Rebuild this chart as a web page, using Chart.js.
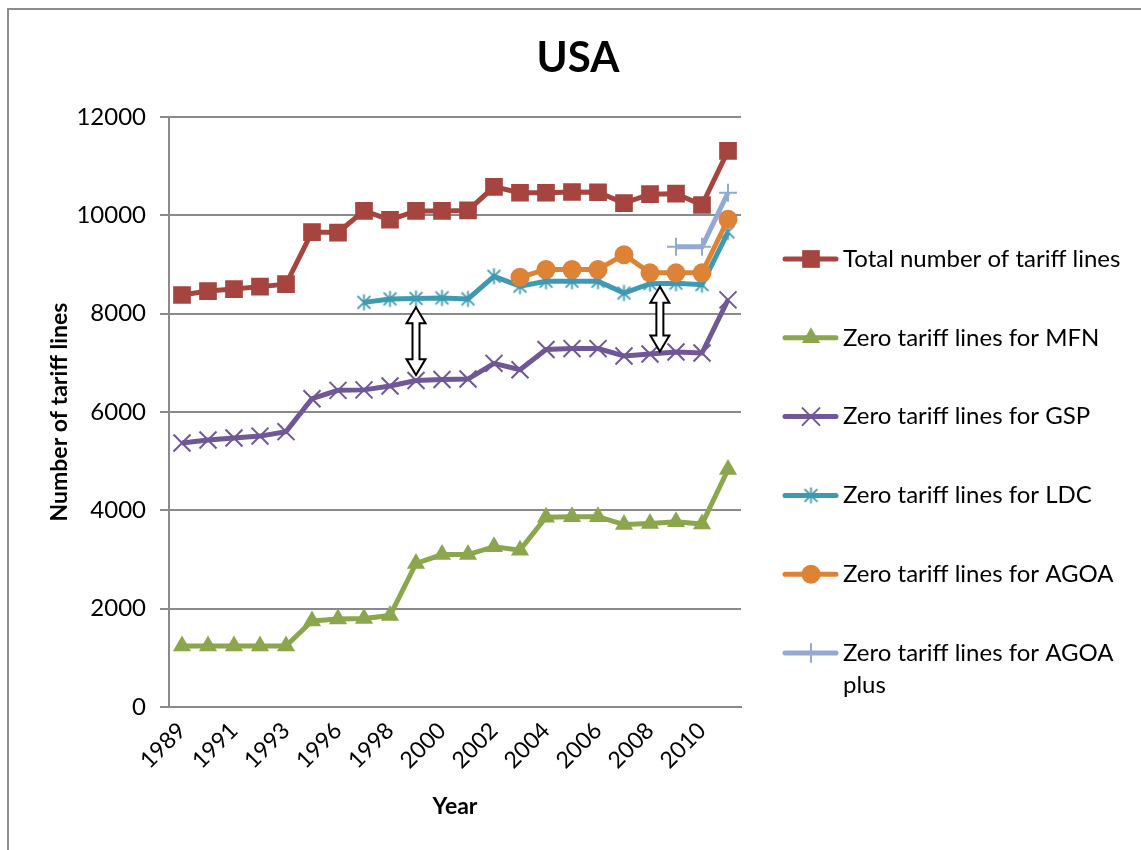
<!DOCTYPE html>
<html>
<head>
<meta charset="utf-8">
<title>USA - zero tariff lines</title>
<script src="https://cdn.jsdelivr.net/npm/chart.js@4/dist/chart.umd.min.js"></script>
<style>
  html, body { margin: 0; padding: 0; background: #fff; }
  #frame {
    position: absolute; left: 7px; top: 8px; width: 1200px; height: 900px;
    border-left: 2px solid #8c8c8c; border-top: 2px solid #8c8c8c;
  }
  #wrap { position: absolute; left: 0; top: 0; width: 1141px; height: 850px; }
</style>
</head>
<body>
<div id="frame"></div>
<div id="wrap"><canvas id="chart" width="1141" height="850"></canvas></div>
<script>
// Years on the category axis (1994 has no observation)
const years = ['1989','1990','1991','1992','1993','1995','1996','1997','1998','1999','2000',
               '2001','2002','2003','2004','2005','2006','2007','2008','2009','2010','2011'];

// Number of tariff lines per year
const totalLines = [8380, 8460, 8500, 8550, 8600, 9660, 9650, 10090, 9910, 10090, 10090,
                    10100, 10580, 10460, 10460, 10475, 10470, 10250, 10430, 10440, 10210, 11310];
const mfnZero    = [1240, 1240, 1240, 1240, 1240, 1750, 1790, 1800, 1860, 2920, 3100,
                    3100, 3260, 3190, 3860, 3870, 3870, 3710, 3730, 3770, 3720, 4830];
const gspZero    = [5370, 5430, 5470, 5510, 5600, 6270, 6440, 6450, 6530, 6640, 6660,
                    6670, 6990, 6860, 7270, 7290, 7290, 7140, 7180, 7220, 7200, 8280];
const ldcZero    = [null, null, null, null, null, null, null, 8230, 8300, 8310, 8320,
                    8300, 8760, 8560, 8660, 8660, 8660, 8420, 8610, 8620, 8590, 9660];
const agoaZero   = [null, null, null, null, null, null, null, null, null, null, null,
                    null, null, 8740, 8900, 8900, 8900, 9200, 8830, 8830, 8830, 9920];
const agoaPlusZero = [null, null, null, null, null, null, null, null, null, null, null,
                    null, null, null, null, null, null, null, null, 9360, 9360, 10460];

// Y-axis ticks
const yTicks = [0, 2000, 4000, 6000, 8000, 10000, 12000];

// Gap arrows between LDC and GSP lines: category position and value range
const gapArrows = [
  { at: 9,     from: 8130, to: 6750 },
  { at: 18.38, from: 8550, to: 7230 }
];

const FONT = 'Lato, "Open Sans", sans-serif';
const GRID = '#8a8a8a';

// Six-armed star marker (X plus vertical bar)
function makeStar(color, size) {
  const c = document.createElement('canvas');
  c.width = size; c.height = size;
  const g = c.getContext('2d');
  const m = size / 2, r = size / 2 - 1.5, d = r * 0.8;
  g.strokeStyle = color; g.lineWidth = 1.8; g.lineCap = 'butt';
  g.beginPath();
  g.moveTo(m, m - r); g.lineTo(m, m + r);
  g.moveTo(m - d, m - d); g.lineTo(m + d, m + d);
  g.moveTo(m + d, m - d); g.lineTo(m - d, m + d);
  g.stroke();
  return c;
}

const C = {
  red: '#a6443f', green: '#8ba64c', purple: '#705796',
  teal: '#3f99b1', orange: '#de8236', lblue: '#93a9d3'
};
const starMarker = makeStar(C.teal, 19);

const series = [
  { label: 'Total number of tariff lines', data: totalLines, color: C.red,
    pointStyle: 'rect', pointRadius: 12.5, pbw: 0 },
  { label: 'Zero tariff lines for MFN', data: mfnZero, color: C.green,
    pointStyle: 'triangle', pointRadius: 10.5, pbw: 0 },
  { label: 'Zero tariff lines for GSP', data: gspZero, color: C.purple,
    pointStyle: 'crossRot', pointRadius: 12, pbw: 2 },
  { label: 'Zero tariff lines for LDC', data: ldcZero, color: C.teal,
    pointStyle: starMarker, pointRadius: 10, pbw: 2 },
  { label: 'Zero tariff lines for AGOA', data: agoaZero, color: C.orange,
    pointStyle: 'circle', pointRadius: 9.5, pbw: 0 },
  { label: ['Zero tariff lines for AGOA', 'plus'], data: agoaPlusZero, color: C.lblue,
    pointStyle: 'cross', pointRadius: 9, pbw: 2 }
];

const datasets = series.map((s, i) => ({
  label: s.label,
  data: s.data,
  borderColor: s.color,
  backgroundColor: s.color,
  borderWidth: 5,
  tension: 0,
  spanGaps: false,
  pointStyle: s.pointStyle,
  pointRadius: s.pointRadius,
  pointHoverRadius: s.pointRadius,
  pointBackgroundColor: s.color,
  pointBorderColor: s.color,
  pointBorderWidth: s.pbw,
  order: series.length - i
}));

// Draws one legend marker in the same style as the series markers
function drawMarker(ctx, s, x, y) {
  ctx.save();
  ctx.fillStyle = s.color; ctx.strokeStyle = s.color; ctx.lineWidth = 2;
  const r = s.pointRadius;
  ctx.beginPath();
  if (s.pointStyle === 'rect') {
    const h = r * Math.SQRT1_2;
    ctx.fillRect(x - h, y - h, 2 * h, 2 * h);
  } else if (s.pointStyle === 'triangle') {
    ctx.moveTo(x, y - r);
    ctx.lineTo(x + r * Math.sin(2 * Math.PI / 3), y - r * Math.cos(2 * Math.PI / 3));
    ctx.lineTo(x + r * Math.sin(4 * Math.PI / 3), y - r * Math.cos(4 * Math.PI / 3));
    ctx.closePath(); ctx.fill();
  } else if (s.pointStyle === 'crossRot') {
    const h = r * Math.SQRT1_2;
    ctx.moveTo(x - h, y - h); ctx.lineTo(x + h, y + h);
    ctx.moveTo(x + h, y - h); ctx.lineTo(x - h, y + h);
    ctx.stroke();
  } else if (s.pointStyle === 'circle') {
    ctx.arc(x, y, r, 0, Math.PI * 2); ctx.fill();
  } else if (s.pointStyle === 'cross') {
    ctx.moveTo(x, y - r); ctx.lineTo(x, y + r);
    ctx.moveTo(x - r, y); ctx.lineTo(x + r, y);
    ctx.stroke();
  } else if (s.pointStyle instanceof HTMLCanvasElement) {
    ctx.drawImage(s.pointStyle, x - s.pointStyle.width / 2, y - s.pointStyle.height / 2);
  }
  ctx.restore();
}

const decorations = {
  id: 'decorations',
  afterDatasetsDraw(chart) {
    const ctx = chart.ctx;
    const xs = chart.scales.x, ys = chart.scales.y;

    // double-headed gap arrows
    gapArrows.forEach(a => {
      const i0 = Math.floor(a.at), f = a.at - i0;
      const x = xs.getPixelForValue(i0) + f * (xs.getPixelForValue(i0 + 1) - xs.getPixelForValue(i0));
      const y1 = ys.getPixelForValue(a.from), y2 = ys.getPixelForValue(a.to);
      const hw = 9.5, sw = 3.5, hh = 16;
      ctx.save();
      ctx.beginPath();
      ctx.moveTo(x, y1);
      ctx.lineTo(x + hw, y1 + hh);
      ctx.lineTo(x + sw, y1 + hh);
      ctx.lineTo(x + sw, y2 - hh);
      ctx.lineTo(x + hw, y2 - hh);
      ctx.lineTo(x, y2);
      ctx.lineTo(x - hw, y2 - hh);
      ctx.lineTo(x - sw, y2 - hh);
      ctx.lineTo(x - sw, y1 + hh);
      ctx.lineTo(x - hw, y1 + hh);
      ctx.closePath();
      ctx.fillStyle = '#ffffff'; ctx.fill();
      ctx.strokeStyle = '#000000'; ctx.lineWidth = 2; ctx.lineJoin = 'miter';
      ctx.stroke();
      ctx.restore();
    });
  },
  afterDraw(chart) {
    const ctx = chart.ctx;
    ctx.save();
    // chart title
    ctx.fillStyle = '#000';
    ctx.font = 'bold 42px ' + FONT;
    ctx.textAlign = 'center'; ctx.textBaseline = 'middle';
    ctx.fillText('USA', 578, 58);

    // legend
    ctx.font = '24px ' + FONT;
    ctx.textAlign = 'left';
    series.forEach((s, i) => {
      const y = 259 + i * 78.8;
      ctx.beginPath();
      ctx.strokeStyle = s.color; ctx.lineWidth = 5; ctx.lineCap = 'round';
      ctx.moveTo(785, y); ctx.lineTo(836, y);
      ctx.stroke();
      drawMarker(ctx, s, 811, y);
      ctx.fillStyle = '#000';
      const lines = Array.isArray(s.label) ? s.label : [s.label];
      lines.forEach((t, k) => ctx.fillText(t, 843, y + k * 32));
    });
    ctx.restore();
  }
};

new Chart(document.getElementById('chart'), {
  type: 'line',
  data: { labels: years, datasets },
  options: {
    responsive: false,
    animation: false,
    events: [],
    layout: { padding: { left: 38, top: 117, right: 400, bottom: 26 } },
    plugins: { legend: { display: false }, title: { display: false }, tooltip: { enabled: false } },
    scales: {
      x: {
        type: 'category',
        offset: true,
        grid: { display: false, drawTicks: false },
        border: { display: true, color: GRID, width: 2 },
        ticks: {
          autoSkip: false, maxRotation: 45, minRotation: 45, padding: 10,
          color: '#000', font: { family: FONT, size: 23 },
          callback: (v, i) => (i % 2 === 0 ? years[i] : '')
        },
        title: { display: true, text: 'Year', color: '#000',
                 font: { family: FONT, size: 23, weight: 'bold' }, padding: { top: 4, bottom: 4 } },
        afterFit: s => { s.height = 117; }
      },
      y: {
        min: yTicks[0], max: yTicks[yTicks.length - 1],
        afterBuildTicks: s => { s.ticks = yTicks.map(v => ({ value: v })); },
        grid: { color: GRID, lineWidth: 2, tickLength: 9, drawTicks: true },
        border: { display: true, color: GRID, width: 2 },
        ticks: { color: '#000', padding: 14, font: { family: FONT, size: 24 },
                 callback: v => String(v) },
        title: { display: true, text: 'Number of tariff lines', color: '#000',
                 font: { family: FONT, size: 23, weight: 'bold' }, padding: { top: 8, bottom: 4 } },
        afterFit: s => { s.width = 131; }
      }
    }
  },
  plugins: [decorations]
});
</script>
</body>
</html>
